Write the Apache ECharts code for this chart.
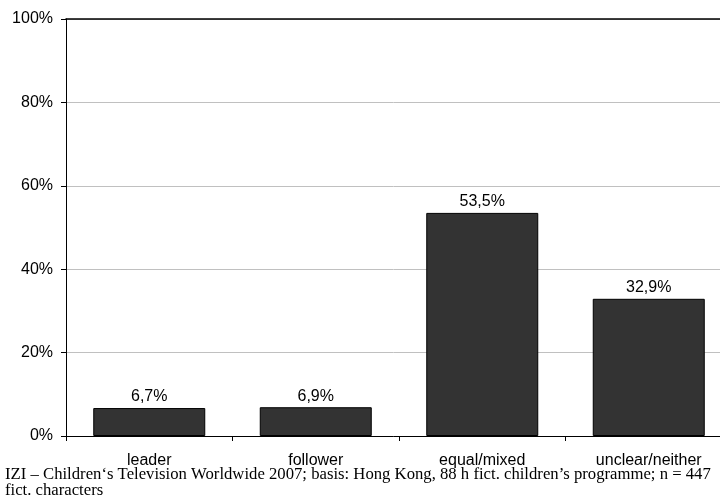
<!DOCTYPE html>
<html><head><meta charset="utf-8">
<script src="https://cdn.jsdelivr.net/npm/echarts@6/dist/echarts.min.js"></script>
<style>html,body{margin:0;padding:0;background:#fff}#c{width:720px;height:500px}</style>
</head><body><div id="c"></div>
<script>
const categories = ['leader', 'follower', 'equal/mixed', 'unclear/neither'];
const values = [6.7, 6.9, 53.5, 32.9];
const yTicks = [0, 20, 40, 60, 80, 100];
const footnoteLines = [
  'IZI \u2013 Children\u2018s Television Worldwide 2007; basis: Hong Kong, 88 h fict. children\u2019s programme; n = 447',
  'fict. characters'
];

const chart = echarts.init(document.getElementById('c'), null, {renderer: 'canvas'});
const sans = '"Liberation Sans", Arial, sans-serif';
chart.setOption({
  animation: false,
  backgroundColor: '#fff',
  grid: {left: 66, top: 19, width: 666, height: 417, containLabel: false, outerBoundsMode: 'none'},
  xAxis: [{
    type: 'category',
    data: categories,
    axisLine: {lineStyle: {color: '#000', width: 1}},
    axisTick: {show: true, length: 5, lineStyle: {color: '#000'}},
    axisLabel: {color: '#000', fontFamily: sans, fontSize: 16, margin: 17},
    splitLine: {show: false}
  }, {
    type: 'category',
    data: categories,
    position: 'top',
    axisLine: {lineStyle: {color: '#000', width: 1.5}},
    axisTick: {show: false},
    axisLabel: {show: false}
  }],
  yAxis: {
    type: 'value',
    min: yTicks[0], max: yTicks[yTicks.length - 1], interval: 20,
    axisLine: {show: true, lineStyle: {color: '#000'}},
    axisTick: {show: true, length: 5, lineStyle: {color: '#000'}},
    axisLabel: {color: '#000', fontFamily: sans, fontSize: 16, margin: 13,
      formatter: v => v + '%'},
    splitLine: {show: true, lineStyle: {color: '#c0c0c0', width: 1}}
  },
  series: [{
    type: 'bar',
    data: values,
    barWidth: 112,
    itemStyle: {color: '#333333', borderColor: '#000', borderWidth: 1},
    label: {
      show: true, position: 'top', distance: 3, color: '#000',
      fontFamily: sans, fontSize: 16,
      formatter: p => p.value.toFixed(1).replace('.', ',') + '%'
    }
  }],
  graphic: footnoteLines.map((t, i) => ({
    type: 'text', left: 5, top: 466 + i * 16,
    style: {text: t, fill: '#000', font: '16.7px "Liberation Serif", "Times New Roman", serif'}
  }))
});
</script></body></html>
